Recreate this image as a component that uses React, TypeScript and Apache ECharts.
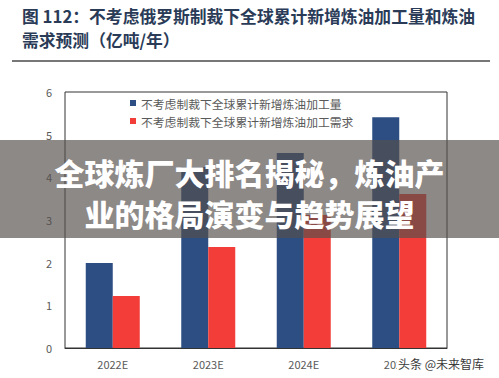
import React, { useEffect, useRef } from "react";
import * as echarts from "echarts";

const categories = ["2022E", "2023E", "2024E", "2025E"];
const capacityValues = [1.99, 4.24, 4.57, 5.41];
const demandValues = [1.22, 2.37, 3.12, 3.61];
const seriesNames = [
  "不考虑制裁下全球累计新增炼油加工量",
  "不考虑制裁下全球累计新增炼油加工需求",
];
const titleLines = [
  "图 112：不考虑俄罗斯制裁下全球累计新增炼油加工量和炼油",
  "需求预测（亿吨/年）",
];
const overlayLines = ["全球炼厂大排名揭秘，炼油产", "业的格局演变与趋势展望"];
const watermark = "头条 @未来智库";

export default function App() {
  const ref = useRef<HTMLDivElement>(null);
  useEffect(() => {
    if (!ref.current) return;
    const chart = echarts.init(ref.current, undefined, { renderer: "svg" });
    const cjk = "'Noto Sans CJK SC', 'Noto Sans', sans-serif";
    chart.setOption({
      animation: false,
      backgroundColor: "#ffffff",
      textStyle: { fontFamily: cjk },
      grid: {
        left: 65,
        top: 92,
        width: 382,
        height: 256,
        show: true,
        borderColor: "#333333",
        borderWidth: 1,
        backgroundColor: "transparent",
      },
      legend: {
        orient: "vertical",
        left: 125,
        top: 91,
        itemWidth: 6,
        itemHeight: 6,
        itemGap: 4,
        icon: "rect",
        textStyle: { fontSize: 11.8, color: "#595959", fontFamily: cjk, lineHeight: 14 },
        data: seriesNames,
      },
      xAxis: {
        type: "category",
        data: categories,
        axisTick: { show: false },
        axisLine: { show: true, lineStyle: { color: "#333333" } },
        axisLabel: { color: "#595959", fontSize: 11, margin: 10, fontFamily: cjk },
      },
      yAxis: {
        type: "value",
        min: 0,
        max: 6,
        interval: 1,
        splitLine: { show: false },
        axisLine: { show: false },
        axisTick: { show: false },
        axisLabel: { color: "#595959", fontSize: 11, margin: 13, fontFamily: cjk },
      },
      series: [
        {
          name: seriesNames[0],
          type: "bar",
          data: capacityValues,
          barWidth: 27,
          barGap: "0%",
          itemStyle: { color: "#2d4e83" },
        },
        {
          name: seriesNames[1],
          type: "bar",
          data: demandValues,
          barWidth: 27,
          barGap: "0%",
          itemStyle: { color: "#f23d38" },
        },
      ],
      graphic: [
        {
          type: "text",
          x: 22,
          y: 16,
          style: {
            text: titleLines[0],
            fontSize: 16.8,
            fontWeight: "bold",
            fontFamily: cjk,
            fill: "#2a3b58",
            textVerticalAlign: "middle",
          },
        },
        {
          type: "text",
          x: 22,
          y: 40,
          style: {
            text: titleLines[1],
            fontSize: 16.8,
            fontWeight: "bold",
            fontFamily: cjk,
            fill: "#2a3b58",
            textVerticalAlign: "middle",
          },
        },
        {
          type: "line",
          shape: { x1: 12, y1: 61, x2: 490, y2: 61 },
          style: { stroke: "#4a4a4a", lineWidth: 1.5 },
        },
        {
          type: "rect",
          z: 100,
          shape: { x: 0, y: 140, width: 499, height: 98 },
          style: { fill: "rgba(85,79,76,0.67)" },
        },
        {
          type: "text",
          z: 101,
          x: 249.5,
          y: 172,
          style: {
            text: overlayLines[0],
            fontSize: 30,
            fontWeight: 900,
            fontFamily: cjk,
            fill: "#ffffff",
            textAlign: "center",
            textVerticalAlign: "middle",
          },
        },
        {
          type: "text",
          z: 101,
          x: 249.5,
          y: 213,
          style: {
            text: overlayLines[1],
            fontSize: 30,
            fontWeight: 900,
            fontFamily: cjk,
            fill: "#ffffff",
            textAlign: "center",
            textVerticalAlign: "middle",
          },
        },
        {
          type: "rect",
          z: 100,
          shape: { x: 397, y: 355, width: 94, height: 17 },
          style: { fill: "#ffffff" },
        },
        {
          type: "text",
          z: 101,
          x: 398,
          y: 363,
          style: {
            text: watermark,
            fontSize: 12,
            fontFamily: cjk,
            fill: "#3a3a3a",
            textVerticalAlign: "middle",
          },
        },
      ],
    });
    return () => chart.dispose();
  }, []);
  return (
    <div
      ref={ref}
      style={{ position: "fixed", left: 0, top: 0, width: 499, height: 378 }}
    />
  );
}
